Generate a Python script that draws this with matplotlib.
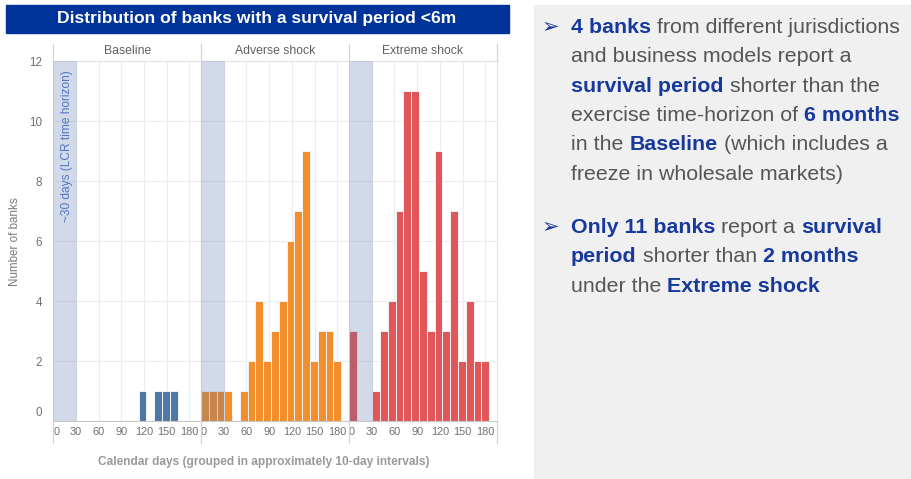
import matplotlib
matplotlib.use("Agg")
import matplotlib.pyplot as plt
from matplotlib.patches import Rectangle
from matplotlib.lines import Line2D
from matplotlib.transforms import ScaledTranslation

plt.rcParams['font.family'] = ['Liberation Sans', 'DejaVu Sans']

# ---- data -------------------------------------------------------------
panel_names = ["Baseline", "Adverse shock", "Extreme shock"]
bin_days = 10.28  # "approximately 10-day" bins
baseline_counts = [0, 0, 0, 0, 0, 0, 0, 0, 0, 0, 0, 1, 0, 1, 1, 1, 0, 0]
adverse_counts = [1, 1, 1, 1, 0, 1, 2, 4, 2, 3, 4, 6, 7, 9, 2, 3, 3, 2]
extreme_counts = [3, 0, 0, 1, 3, 4, 7, 11, 11, 5, 3, 9, 3, 7, 2, 4, 2, 2]
day_ticks = [0, 30, 60, 90, 120, 150, 180]
count_ticks = [0, 2, 4, 6, 8, 10, 12]
lcr_days = 30

title = "Distribution of banks with a survival period <6m"
xlabel = "Calendar days (grouped in approximately 10-day intervals)"
ylabel = "Number of banks"
band_label = "~30 days (LCR time horizon)"

bullets = [
    [[("4 banks", True), (" from different jurisdictions", False)],
     [("and business models report a", False)],
     [("survival period", True), (" shorter than the", False)],
     [("exercise time-horizon of ", False), ("6 months", True)],
     [("in the ", False), ("Baseline", True), (" (which includes a", False)],
     [("freeze in wholesale markets)", False)]],
    [[("Only 11 banks", True), (" report a ", False), ("survival", True)],
     [("period", True), (" shorter than ", False), ("2 months", True)],
     [("under the ", False), ("Extreme shock", True)]],
]

# ---- style ------------------------------------------------------------
W, H = 911, 479
bar_colors = ["#4e79a7", "#f28e2b", "#e15759"]
band_color = "#4f6faf"
grid_color = "#ececec"
line_color = "#d4d4d4"
tick_color = "#707070"
navy = "#003399"
text_gray = "#555555"
text_blue = "#17399b"

fig = plt.figure(figsize=(W / 100, H / 100), dpi=100)
fig.patch.set_facecolor("white")


def fx(px):
    return px / W


def fy(py):
    return 1 - py / H


# title banner
fig.patches.append(Rectangle((fx(6), fy(33)), fx(503), 28 / H,
                             transform=fig.transFigure, color=navy, zorder=0))
fig.text(fx(257), fy(19), title, color="white", fontsize=12.6,
         fontweight="bold", ha="center", va="center")

# ---- small multiples --------------------------------------------------
edges = [53.3, 201, 349, 497]
top, bottom = 61, 421
all_counts = [baseline_counts, adverse_counts, extreme_counts]

for i, (name, counts, col) in enumerate(zip(panel_names, all_counts, bar_colors)):
    x0, x1 = edges[i], edges[i + 1]
    ax = fig.add_axes([fx(x0), fy(bottom), (x1 - x0) / W, (bottom - top) / H])
    lefts = [k * bin_days for k in range(len(counts))]
    ax.bar(lefts, counts, width=bin_days, align="edge", color=col,
           edgecolor="#f3f3f3", linewidth=0.7, zorder=2)
    ax.axvspan(0, lcr_days, facecolor=band_color, alpha=0.25,
               edgecolor="#9fb0d6", linewidth=0.6, zorder=3)
    ax.set_xlim(0, 195.5)
    ax.set_ylim(0, 12)
    ax.set_xticks(day_ticks)
    ax.set_yticks(count_ticks)
    ax.grid(True, color=grid_color, linewidth=0.8, zorder=0)
    ax.set_axisbelow(True)
    for side in ["top", "right", "left"]:
        ax.spines[side].set_color("#e2e2e2")
        ax.spines[side].set_linewidth(0.8)
    ax.spines["bottom"].set_color("#c8c8c8")
    ax.tick_params(length=0, labelsize=7.9, labelcolor=tick_color, pad=4.5)
    xl = ax.get_xticklabels()
    xl[0].set_horizontalalignment("left")
    if i == 0:
        ax.tick_params(axis="y", labelsize=8.4, pad=8)
        yl = ax.get_yticklabels()
        yl[0].set_transform(yl[0].get_transform() +
                            ScaledTranslation(0, 9 / 100, fig.dpi_scale_trans))
        ax.text(17.9, 11.7, band_label, rotation=90, ha="center", va="top",
                fontsize=8.6, color="#4f76c4", zorder=4)
    else:
        ax.set_yticklabels([])
    fig.text(fx((x0 + x1) / 2), fy(50.5), name, ha="center", va="center",
             fontsize=8.8, color="#606060")

# panel separators above and below the plotting area
for x in edges:
    fig.add_artist(Line2D([fx(x), fx(x)], [fy(44), fy(61)], color=line_color, lw=0.9))
    fig.add_artist(Line2D([fx(x), fx(x)], [fy(421), fy(443)], color=line_color, lw=0.9))

fig.text(fx(15.5), fy(242), ylabel, rotation=90, ha="center", va="center",
         fontsize=8.4, color="#7a7a7a")
fig.text(fx(264), fy(462), xlabel, ha="center", va="center",
         fontsize=8.6, fontweight="bold", color="#9a9a9a")

# ---- commentary panel -------------------------------------------------
fig.patches.append(Rectangle((fx(534), fy(478)), fx(377), 473 / H,
                             transform=fig.transFigure, color="#f0f0f0", zorder=0))

renderer = fig.canvas.get_renderer()
body_size = 15.4


def text_width(s, bold):
    t = fig.text(0, 0, s, fontsize=body_size,
                 fontweight="bold" if bold else "normal")
    w = t.get_window_extent(renderer).width
    t.remove()
    return w


space_w = {b: text_width("n n", b) - text_width("nn", b) for b in (False, True)}


def rich_line(x, y, parts):
    # each run is drawn whole; only its outer spaces are added by hand
    for s, bold in parts:
        core = s.strip(" ")
        lead = len(s) - len(s.lstrip(" "))
        trail = len(s) - len(s.rstrip(" "))
        x += lead * space_w[bold]
        t = fig.text(fx(x), fy(y), core, fontsize=body_size,
                     fontweight="bold" if bold else "normal",
                     color=text_blue if bold else text_gray,
                     ha="left", va="baseline")
        x += t.get_window_extent(renderer).width + trail * space_w[bold]


line_step = 29.3
first_baselines = [33, 233]
for lines, y0 in zip(bullets, first_baselines):
    fig.text(fx(542), fy(y0 - 0.5), "\u27a2", fontsize=15, color=text_blue,
             family="DejaVu Sans", ha="left", va="baseline")
    for j, parts in enumerate(lines):
        rich_line(571, y0 + j * line_step, parts)

fig.savefig("out.png", dpi=100)
